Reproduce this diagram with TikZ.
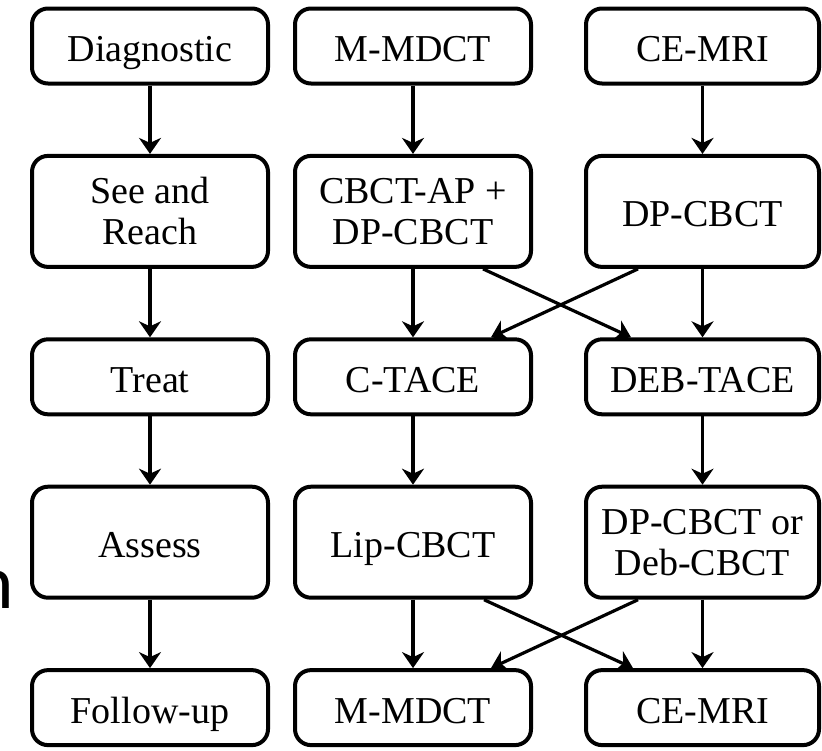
\documentclass[tikz,border=0pt]{standalone}
\usepackage{fontspec}
\setmainfont{Liberation Serif}
\newfontfamily\cutfont{Carlito}
\usepackage{tikz}
\usetikzlibrary{arrows.meta, positioning}
\tikzstyle{box} = [rectangle, rounded corners=8pt, minimum width=118pt, minimum height=37.5pt, inner sep=0pt, text centered, align=center, text height=16pt, text depth=0.5pt, draw=black, line width=2pt, font=\fontsize{19}{20.5}\selectfont]
\tikzstyle{tallbox} = [box, minimum height=55.5pt]
\tikzstyle{twoline} = [tallbox, text height=, text depth=]
\tikzstyle{arrow} = [line width=1.6pt,-{Stealth[length=8pt,width=11pt,inset=2.5pt]}]

\begin{document}
\begin{tikzpicture}[node distance=82.7pt]
    \useasboundingbox (0,0) rectangle (411pt,-375pt);

    \node (diag) [box] at (75pt,-23pt) {Diagnostic};
    \node (see) [twoline, below of=diag] {See and\\Reach};
    \node (treat) [box, below of=see] {Treat};
    \node (assess) [tallbox, below of=treat] {Assess};
    \node (follow) [box, below of=assess] {Follow-up};

    \node (mdct) [box, right of=diag, node distance=131.5pt] {M-MDCT};
    \node (cbct) [twoline, below of=mdct] {CBCT-AP +\\DP-CBCT};
    \node (ctace) [box, below of=cbct] {C-TACE};
    \node (lip) [tallbox, below of=ctace] {Lip-CBCT};
    \node (mdctb) [box, below of=lip] {M-MDCT};

    \node (mri) [box, minimum width=116.5pt, right of=mdct, node distance=144.75pt] {CE-MRI};
    \node (dpcbct) [tallbox, minimum width=116.5pt, below of=mri] {DP-CBCT};
    \node (deb) [box, minimum width=116.5pt, below of=dpcbct] {DEB-TACE};
    \node (dpor) [twoline, minimum width=116.5pt, below of=deb] {DP-CBCT or\\Deb-CBCT};
    \node (mrib) [box, minimum width=116.5pt, below of=dpor] {CE-MRI};

    \node (cut) [anchor=base east, inner sep=0pt, font=\cutfont\fontsize{38.5}{40}\selectfont] at (7.3pt,-304pt) {n};

    \draw [arrow] (diag) -- (see);
    \draw [arrow] (see) -- (treat);
    \draw [arrow] (treat) -- (assess);
    \draw [arrow] (assess) -- (follow);

    \draw [arrow] (mdct) -- (cbct);
    \draw [arrow] (cbct) -- (ctace);
    \draw [arrow] (ctace) -- (lip);
    \draw [arrow] (lip) -- (mdctb);

    \draw [arrow] (mri) -- (dpcbct);
    \draw [arrow] (dpcbct) -- (deb);
    \draw [arrow] (deb) -- (dpor);
    \draw [arrow] (dpor) -- (mrib);

    \draw [arrow] ([xshift=-25pt]cbct.south east) -- ([xshift=23.5pt]deb.north west);
    \draw [arrow] ([xshift=27pt]dpcbct.south west) -- ([xshift=-21pt]ctace.north east);
    \draw [arrow] ([xshift=-24.5pt]lip.south east) -- ([xshift=24.5pt]mrib.north west);
    \draw [arrow] ([xshift=27pt]dpor.south west) -- ([xshift=-21pt]mdctb.north east);

\end{tikzpicture}
\end{document}
